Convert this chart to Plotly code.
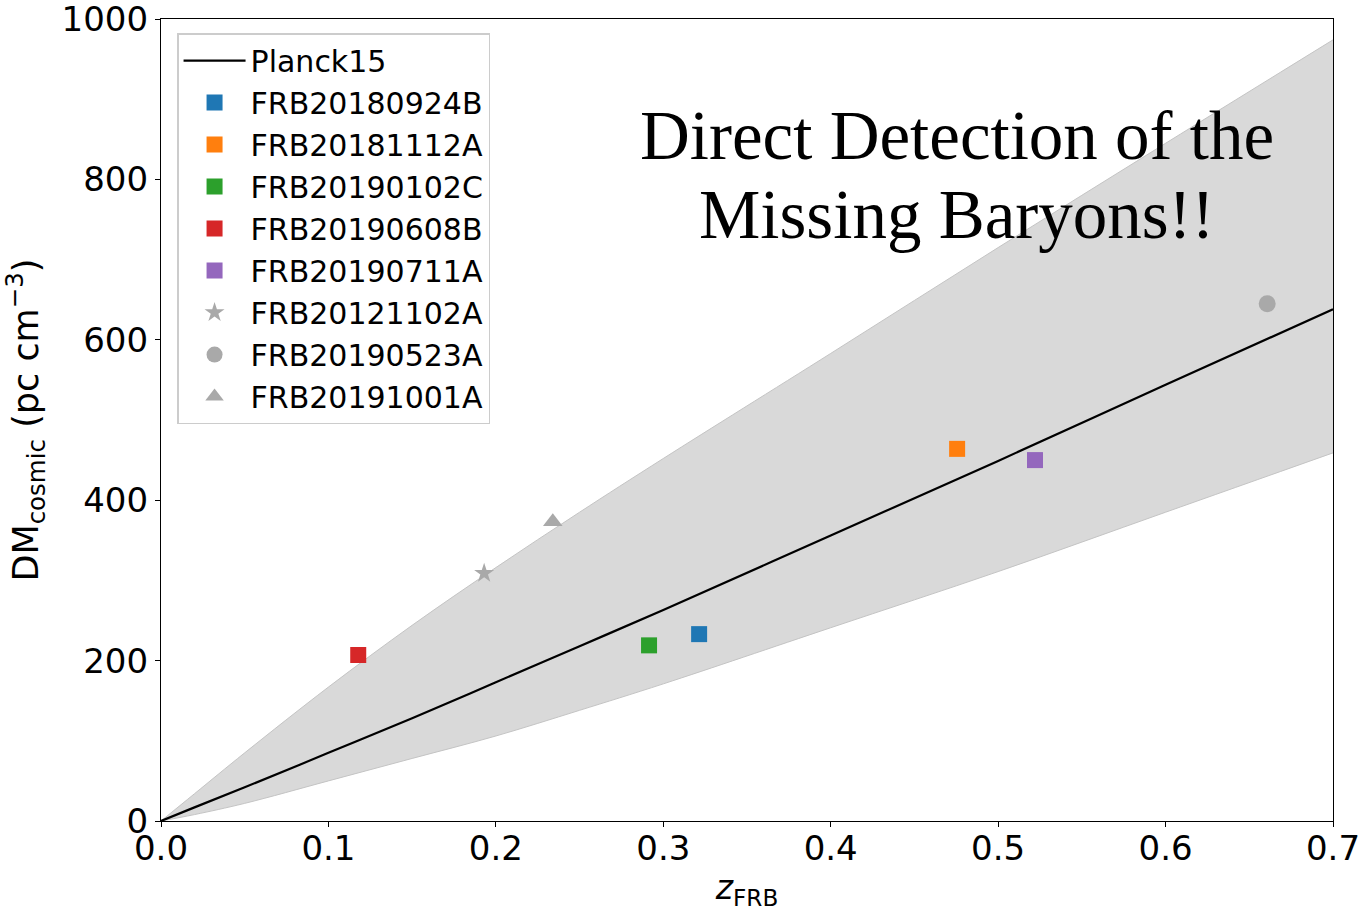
import plotly.graph_objects as go

# ---- data ----
z_curve = [0.0, 0.02, 0.05, 0.1, 0.15, 0.2, 0.25, 0.3, 0.4, 0.5, 0.6, 0.7]
dm_planck15 = [0, 17, 42, 85, 128, 173, 218, 263, 356, 449, 544, 638]
dm_upper = [0, 34, 85, 167, 244, 316, 385, 452, 583, 715, 845, 974]
dm_lower = [0, 8, 22, 50, 78, 106, 138, 171, 241, 311, 385, 459]

frb_names = ["FRB20180924B", "FRB20181112A", "FRB20190102C", "FRB20190608B",
             "FRB20190711A", "FRB20121102A", "FRB20190523A", "FRB20191001A"]
frb_z = [0.3214, 0.4755, 0.2915, 0.1178, 0.522, 0.193, 0.6607, 0.234]
frb_dm = [233, 464, 219, 207, 450, 309, 645, 373]
frb_colors = ["#1f77b4", "#ff7f0e", "#2ca02c", "#d62728", "#9467bd",
              "#a9a9a9", "#a9a9a9", "#a9a9a9"]
frb_symbols = ["square", "square", "square", "square", "square",
               "star", "circle", "triangle-up"]
frb_sizes = [16, 16, 16, 16, 16, 15, 17, 17]

x_ticks = [0.0, 0.1, 0.2, 0.3, 0.4, 0.5, 0.6, 0.7]
y_ticks = [0, 200, 400, 600, 800, 1000]

fig = go.Figure()

# band
fig.add_trace(go.Scatter(x=z_curve, y=dm_lower, mode="lines",
                         line=dict(color="#c4c4c4", width=1, shape="spline"),
                         showlegend=False, hoverinfo="skip"))
fig.add_trace(go.Scatter(x=z_curve, y=dm_upper, mode="lines",
                         line=dict(color="#c4c4c4", width=1, shape="spline"),
                         fill="tonexty", fillcolor="#d9d9d9",
                         showlegend=False, hoverinfo="skip"))

# Planck15 line
fig.add_trace(go.Scatter(x=z_curve, y=dm_planck15, mode="lines",
                         line=dict(color="black", width=2.2, shape="spline"),
                         name="Planck15"))

for n, zz, dd, c, s, sz in zip(frb_names, frb_z, frb_dm, frb_colors,
                                frb_symbols, frb_sizes):
    fig.add_trace(go.Scatter(x=[zz], y=[dd], mode="markers", name=n,
                             marker=dict(color=c, symbol=s, size=sz,
                                         line=dict(width=0))))

fig.add_annotation(x=0.679, y=0.854, xref="paper", yref="paper",
                   text="Direct Detection of the", showarrow=False,
                   xanchor="center", yanchor="middle",
                   font=dict(family="Liberation Serif", size=69, color="black"))
fig.add_annotation(x=0.679, y=0.755, xref="paper", yref="paper",
                   text="Missing Baryons!!", showarrow=False,
                   xanchor="center", yanchor="middle",
                   font=dict(family="Liberation Serif", size=69, color="black"))

axis_common = dict(showgrid=False, zeroline=False, showline=True,
                   linecolor="black", linewidth=1.2, mirror=True,
                   ticks="outside", ticklen=5, tickwidth=1.2,
                   tickcolor="black", automargin=False,
                   ticklabeloverflow="allow",
                   tickfont=dict(family="DejaVu Sans", size=34, color="black"))

fig.update_xaxes(range=[0, 0.7], tickvals=x_ticks,
                 ticktext=[f"{v:.1f}" for v in x_ticks],
                 ticklabelstandoff=-8,
                 title=dict(text="<i>z</i><sub>FRB</sub>",
                            font=dict(family="DejaVu Sans", size=33, color="black"),
                            standoff=14),
                 **axis_common)
fig.update_yaxes(range=[0, 1000], tickvals=y_ticks,
                 ticktext=[str(v) for v in y_ticks],
                 title=dict(text="DM<sub>cosmic</sub> (pc cm<sup>−3</sup>)",
                            font=dict(family="DejaVu Sans", size=35, color="black"),
                            standoff=23),
                 **axis_common)

fig.update_layout(
    width=1362, height=911,
    margin=dict(l=161, r=29, t=19, b=90, autoexpand=False),
    plot_bgcolor="white", paper_bgcolor="white",
    font=dict(family="DejaVu Sans", color="black"),
    legend=dict(x=0.0137, y=0.9825, xanchor="left", yanchor="top",
                bgcolor="rgba(255,255,255,0.85)", bordercolor="#cccccc",
                borderwidth=1.5, traceorder="normal",
                font=dict(family="DejaVu Sans", size=30, color="black"),
                itemsizing="trace", itemwidth=62, tracegroupgap=0),
)

fig.write_html("out.html")
